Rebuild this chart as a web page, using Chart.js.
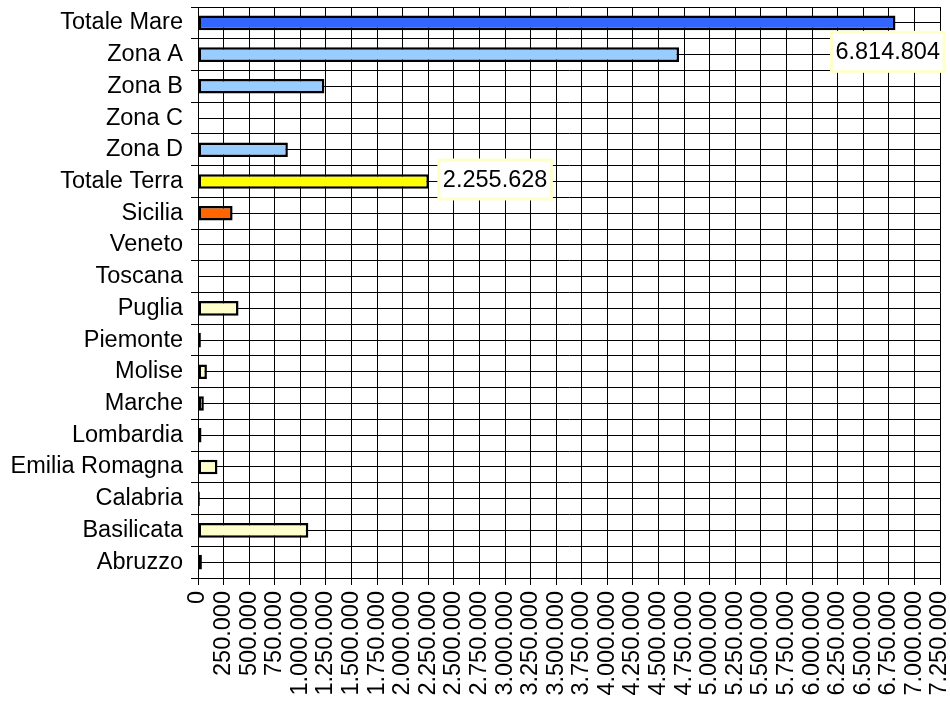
<!DOCTYPE html>
<html>
<head>
<meta charset="utf-8">
<script src="https://cdn.jsdelivr.net/npm/chart.js@4/dist/chart.umd.min.js"></script>
<style>
  body { margin: 0; background: #fff; }
  #wrap { width: 950px; height: 703px; }
</style>
</head>
<body>
<div id="wrap"><canvas id="chartscreen"></canvas></div>
<script>
// values (top to bottom)
const categories = ["Totale Mare", "Zona A", "Zona B", "Zona C", "Zona D", "Totale Terra",
  "Sicilia", "Veneto", "Toscana", "Puglia", "Piemonte", "Molise", "Marche", "Lombardia",
  "Emilia Romagna", "Calabria", "Basilicata", "Abruzzo"];
const values = [6814804, 4700000, 1235000, 0, 878000, 2255628,
  338000, 0, 0, 396000, 28000, 87000, 57000, 34000,
  190000, 18000, 1078000, 38000];
const labelled = ["Totale Mare", "Totale Terra"];
const xMax = 7250000;
const xStep = 250000;

const barColors = ["#3366ff", "#99ccff", "#99ccff", "#99ccff", "#99ccff", "#ffff00",
  "#ff6600", "#ffffcc", "#ffffcc", "#ffffcc", "#ffffcc", "#ffffcc", "#ffffcc", "#ffffcc",
  "#ffffcc", "#ffffcc", "#ffffcc", "#ffffcc"];

const font = "'Liberation Sans', Arial, sans-serif";
const fontSize = 23.5;

function fmt(v) {
  return String(Math.round(v)).replace(/\B(?=(\d{3})+(?!\d))/g, ".");
}

// draws the boxed value labels next to the bars
const valueLabels = {
  id: "valueLabels",
  afterDatasetsDraw(chart) {
    const ctx = chart.ctx;
    const meta = chart.getDatasetMeta(0);
    ctx.save();
    ctx.font = fontSize + "px " + font;
    ctx.textBaseline = "middle";
    for (var i = 0; i < categories.length; i++) {
      if (!labelled.includes(categories[i])) continue;
      const bar = meta.data[i];
      const text = fmt(values[i]);
      const w = ctx.measureText(text).width + 8;
      const h = 39;
      var x = bar.x + 10;
      var y = bar.y - 2;
      // no room on the right: Excel pushed it down and in
      if (x + w > chart.width - 4) {
        x = chart.width - 6 - w;
        y = bar.y + 29;
      }
      ctx.fillStyle = "#fff";
      ctx.fillRect(x, y - h / 2, w, h);
      ctx.strokeStyle = "#ffffcc";
      ctx.lineWidth = 3;
      ctx.strokeRect(x, y - h / 2, w, h);
      ctx.fillStyle = "#000";
      ctx.fillText(text, x + 4, y + 1);
    }
    ctx.restore();
  }
};

new Chart(document.getElementById("chartscreen"), {
  type: "bar",
  data: {
    labels: categories,
    datasets: [{
      data: values,
      backgroundColor: barColors,
      borderColor: "#000",
      borderWidth: 2.5,
      borderSkipped: false,
      barPercentage: 0.46,
      categoryPercentage: 1
    }]
  },
  plugins: [valueLabels],
  options: {
    indexAxis: "y",
    responsive: true,
    maintainAspectRatio: false,
    animation: false,
    layout: { padding: { top: 7, right: 10, left: 0, bottom: 0 } },
    plugins: {
      legend: { display: false },
      tooltip: { enabled: false }
    },
    scales: {
      x: {
        min: 0,
        max: xMax,
        border: { color: "#000", width: 1 },
        grid: { color: "#000", lineWidth: 1, tickLength: 7 },
        ticks: {
          stepSize: xStep,
          autoSkip: false,
          maxRotation: 90,
          minRotation: 90,
          padding: 6,
          color: "#000",
          font: { family: font, size: fontSize },
          callback: function(v) { return fmt(v); }
        },
        afterFit: function(scale) {
          scale.height = 125;
          scale.paddingLeft = 0;
          scale.paddingRight = 0;
        }
      },
      y: {
        border: { color: "#000", width: 1 },
        grid: { color: "#000", lineWidth: 1, tickLength: 7, offset: true },
        ticks: {
          padding: 8,
          color: "#000",
          font: { family: font, size: fontSize }
        },
        afterFit: function(scale) {
          scale.width = 198;
          scale.paddingTop = 0;
          scale.paddingBottom = 0;
        }
      },
      yMid: {
        type: "category",
        labels: categories,
        position: "left",
        offset: true,
        border: { display: false },
        grid: { color: "#000", lineWidth: 1, offset: false, drawTicks: false },
        ticks: { display: false },
        afterFit: function(scale) { scale.width = 0; }
      }
    }
  }
});
</script>
</body>
</html>
